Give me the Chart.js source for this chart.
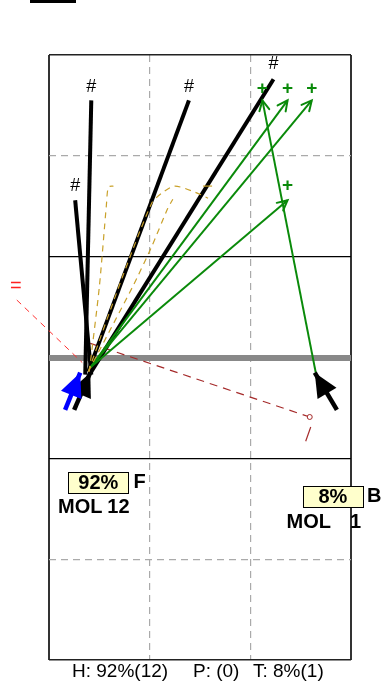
<!DOCTYPE html>
<html><head><meta charset="utf-8">
<script src="https://cdn.jsdelivr.net/npm/chart.js@4.4.0/dist/chart.umd.min.js"></script>
<style>
html,body{margin:0;padding:0;background:#fff;}
#wrap{position:relative;width:382px;height:684px;overflow:hidden;}
#bar{position:absolute;left:30px;top:0;width:46px;height:3px;background:#000;}
.cap{position:absolute;top:660px;font:19px "Liberation Sans",Arial,sans-serif;line-height:22px;color:#000;white-space:pre;}
canvas{position:absolute;left:0;top:0;}
</style></head><body>
<div id="wrap"><canvas id="c" width="382" height="684"></canvas><div id="bar"></div>
<div class="cap" style="left:72px">H: 92%(12)</div>
<div class="cap" style="left:193px">P: (0)</div>
<div class="cap" style="left:253px">T: 8%(1)</div>
</div>
<script>
// ---- data (plot units: x 0..3, y 0..6 from top) ----
const black1 = [[0.36,3.17],[0.42,0.45]];
const black2 = [[0.42,3.17],[0.26,1.44]];
const black3 = [[0.39,3.14],[1.39,0.45]];
const black4 = [[0.42,3.14],[2.23,0.24]];
const green1 = [[0.41,3.10],[2.61,0.45]];
const green2 = [[0.41,3.10],[2.37,0.45]];
const green3 = [[0.41,3.10],[2.37,1.44]];
const green4 = [[2.65,3.15],[2.12,0.45]];
const arrowRight = [[2.86,3.52],[2.64,3.15]];
const arrowLeft = [[0.25,3.52],[0.41,3.15]];
const arrowBlue = [[0.16,3.52],[0.31,3.15]];
const goldA = [[0.40,3.14],[0.50,2.30],[0.57,1.49],[0.59,1.31],[0.64,1.30]];
const goldB = [[0.39,3.14],[0.73,2.20],[1.02,1.47],[1.12,1.37],[1.25,1.30],[1.45,1.36],[1.58,1.42]];
const goldC = [[0.39,3.14],[0.83,2.30],[1.02,1.90],[1.18,1.52],[1.23,1.43]];
const goldD = [[1.53,1.30],[1.62,1.30]];
const redLine = [[-0.32,2.43],[0.33,3.05]];
const darkRed = [[0.41,2.86],[2.59,3.59]];
const darkRedTail = [[2.60,3.69],[2.55,3.83]];

const hashX = [0.42,0.26,1.39,2.23], hashY = [0.32,1.30,0.32,0.09];
const plusX = [2.12,2.37,2.61,2.37], plusY = [0.33,0.33,0.33,1.30];
const eqX = [-0.33], eqY = [2.30];

const boxText = ['92%','8%'], boxX = [0.49,2.82], boxY = [4.24,4.38];
const sideText = ['F','B'], sideX = [0.84,3.16], sideY = [4.24,4.38];
const molText = ['MOL','MOL'], molX = [0.09,2.36], molY = [4.49,4.64];
const numText = ['12','1'], numX = [0.80,3.10], numY = [4.49,4.64];

const xTicks = [0,1,2,3];
const yTicks = [0,1,2,3,4,5,6];

const pts = a => a.map(p => ({x:p[0], y:p[1]}));
function ln(d, color, w, extra){
  return Object.assign({data:pts(d), borderColor:color, backgroundColor:color, borderWidth:w,
    showLine:true, pointRadius:0, tension:0, fill:false}, extra||{});
}
const GOLD = '#c9a12a', GREEN = '#0a8a0a', DR = '#a52a2a';
const datasets = [
  ln(arrowRight,'#000',4.5,{order:1, head:'filled'}),
  ln(arrowLeft,'#000',4.5,{order:1, head:'filled'}),
  ln(arrowBlue,'#0000ff',4.5,{order:2, head:'filled'}),
  ln(goldA,GOLD,1.2,{order:3, borderDash:[6,5], tension:0.25}),
  ln(goldB,GOLD,1.2,{order:3, borderDash:[6,5], tension:0.25}),
  ln(goldC,GOLD,1.2,{order:3, borderDash:[6,5], tension:0.2}),
  ln(goldD,GOLD,1.2,{order:3}),
  ln(green1,GREEN,2,{order:4, head:'open'}),
  ln(green2,GREEN,2,{order:4, head:'open'}),
  ln(green3,GREEN,2,{order:4, head:'open'}),
  ln(green4,GREEN,2,{order:4, head:'open'}),
  ln(black1,'#000',4,{order:5}),
  ln(black2,'#000',4,{order:5}),
  ln(black3,'#000',4,{order:5}),
  ln(black4,'#000',4,{order:5}),
  ln(redLine,'#ff3030',1,{order:6, borderDash:[6,5], clip:false}),
  ln(darkRed,DR,1.2,{order:6, borderDash:[8,6], pointRadius:[0,2.5], pointBorderColor:DR, pointBackgroundColor:'#fff', pointBorderWidth:1}),
  ln(darkRedTail,DR,1.2,{order:6})
];

const arrowPlugin = {id:'arrows', afterDatasetsDraw(chart){
  const c = chart.ctx;
  chart.data.datasets.forEach((ds,i)=>{
    if(!ds.head) return;
    const el = chart.getDatasetMeta(i).data; const n = el.length;
    const a = el[n-1], b = el[n-2];
    const ang = Math.atan2(a.y-b.y, a.x-b.x);
    c.save(); c.translate(a.x,a.y); c.rotate(ang);
    if(ds.head==='open'){
      c.strokeStyle = ds.borderColor; c.lineWidth = 2; c.lineCap='round';
      c.beginPath(); c.moveTo(-10,-5); c.lineTo(0,0); c.lineTo(-10,5); c.stroke();
    } else {
      c.fillStyle = ds.borderColor;
      c.beginPath(); c.moveTo(0,0); c.lineTo(-24,-11); c.lineTo(-24,11); c.closePath(); c.fill();
    }
    c.restore();
  });
}};

const labelPlugin = {id:'labels', afterDraw(chart){
  const c = chart.ctx, X = chart.scales.x, Y = chart.scales.y;
  const FONT = '"Liberation Sans", Arial, sans-serif';
  function txt(t,x,y,font,color,align){
    c.font = font; c.fillStyle = color; c.textAlign = align||'center'; c.textBaseline = 'middle';
    c.fillText(t, X.getPixelForValue(x), Y.getPixelForValue(y));
  }
  c.save();
  hashX.forEach((x,i)=>txt('#',x,hashY[i],'18px '+FONT,'#000'));
  plusX.forEach((x,i)=>txt('+',x,plusY[i],'bold 19px '+FONT,GREEN));
  eqX.forEach((x,i)=>txt('=',x,eqY[i],'20px '+FONT,'#ff2020'));
  boxText.forEach((t,i)=>{
    const cx = X.getPixelForValue(boxX[i]), cy = Y.getPixelForValue(boxY[i]);
    c.fillStyle = '#ffffcc'; c.fillRect(cx-30, cy-10.5, 60, 21);
    c.strokeStyle = '#000'; c.lineWidth = 1; c.strokeRect(Math.round(cx-30)+0.5, Math.round(cy-10.5)+0.5, 60, 21);
    txt(t, boxX[i], boxY[i]+0.01, 'bold 20px '+FONT, '#000');
  });
  sideText.forEach((t,i)=>txt(t,sideX[i],sideY[i],'bold 20px '+FONT,'#000','left'));
  molText.forEach((t,i)=>txt(t,molX[i],molY[i],'bold 20px '+FONT,'#000','left'));
  numText.forEach((t,i)=>txt(t,numX[i],numY[i],'bold 20px '+FONT,'#000','right'));
  c.restore();
}};

function gridColor(ctx, axis){
  const v = ctx.tick.value;
  if(axis==='x') return (v===0||v===3) ? '#333' : '#aaaaaa';
  if(v===0||v===6) return '#222';
  if(v===3) return '#888888';
  if(v===2||v===4) return '#000';
  return '#aaaaaa';
}
function gridWidth(ctx, axis){
  const v = ctx.tick.value;
  if(axis==='x') return (v===0||v===3) ? 2 : 1.2;
  if(v===3) return 6;
  if(v===0||v===6) return 1.5;
  return 1.2;
}
function gridDash(ctx, axis){
  const v = ctx.tick && ctx.tick.value;
  if(axis==='x') return (v===1||v===2) ? [7,5] : [];
  return (v===1||v===5) ? [7,5] : [];
}

new Chart(document.getElementById('c'), {
  type:'scatter',
  data:{datasets},
  options:{
    responsive:false, animation:false, devicePixelRatio:1,
    layout:{padding:{left:49,right:31,top:55,bottom:24}},
    plugins:{legend:{display:false}, tooltip:{enabled:false}, title:{display:false}},
    scales:{
      x:{type:'linear', min:0, max:3,
        afterBuildTicks: s => { s.ticks = xTicks.map(v=>({value:v})); },
        ticks:{display:false},
        grid:{drawTicks:false, color:c=>gridColor(c,'x'), lineWidth:c=>gridWidth(c,'x')},
        border:{display:false, dash:c=>gridDash(c,'x')}},
      y:{type:'linear', min:0, max:6, reverse:true,
        afterBuildTicks: s => { s.ticks = yTicks.map(v=>({value:v})); },
        ticks:{display:false},
        grid:{drawTicks:false, color:c=>gridColor(c,'y'), lineWidth:c=>gridWidth(c,'y')},
        border:{display:false, dash:c=>gridDash(c,'y')}}
    }
  },
  plugins:[arrowPlugin, labelPlugin]
});
</script>
</body></html>
